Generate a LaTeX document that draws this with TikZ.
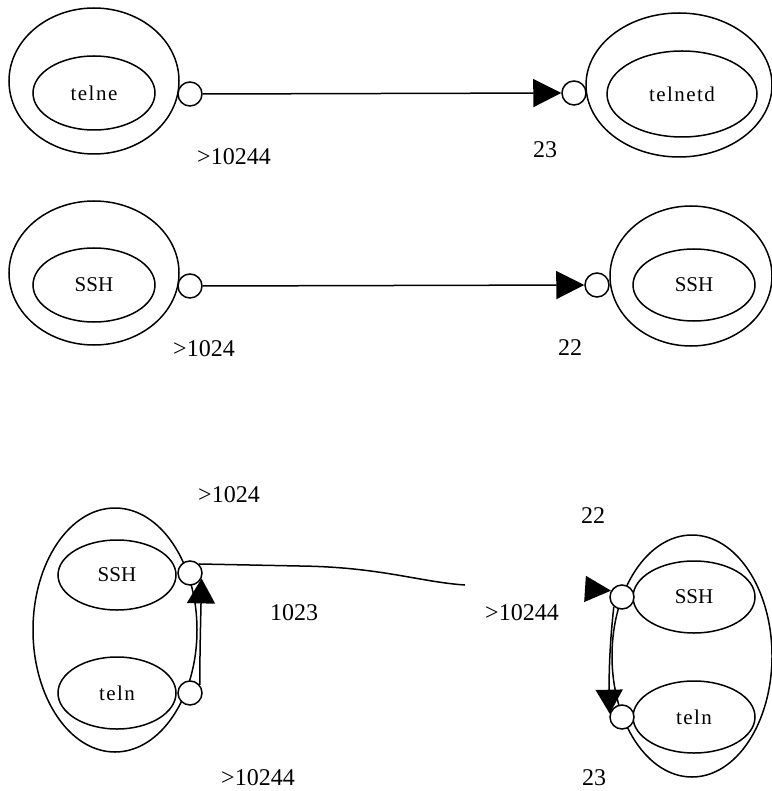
\documentclass[tikz,border=0pt]{standalone}
\usepackage{fontspec}
\setmainfont{Liberation Serif}
\newfontfamily\spacedfont[LetterSpace=7]{Liberation Serif}
\usetikzlibrary{shapes.geometric,arrows.meta}
\begin{document}
\begin{tikzpicture}[x=1pt,y=-1pt,
  outer/.style={draw, ellipse, inner sep=0pt, line width=1.5pt},
  innerell/.style={draw, ellipse, inner sep=0pt, line width=1.5pt, font=\fontsize{21}{25}\selectfont},
  spaced/.style={font=\spacedfont\fontsize{21}{25}\selectfont},
  port/.style={draw, circle, fill=white, minimum size=24pt, inner sep=0pt, line width=1.5pt},
  lbl/.style={font=\fontsize{24}{28}\selectfont, inner sep=0pt},
  conn/.style={line width=1.5pt},
  bigtip/.style={-{Triangle[length=28pt,width=28pt]}}
]
\useasboundingbox (0,0) rectangle (771,791);

% row 1
\node[outer, minimum width=170pt, minimum height=146pt] (o1) at (94,81) {};
\node[innerell, spaced, minimum width=122pt, minimum height=74pt] (i1) at (94,93) {telne};
\node[outer, minimum width=186pt, minimum height=144pt] (o2) at (679,85) {};
\node[innerell, spaced, minimum width=150pt, minimum height=86pt] (i2) at (682,94) {telnetd};
\node[lbl] (l1) at (234,157) {>10244};
\node[lbl] (l2) at (545,150) {23};

% row 2
\node[outer, minimum width=170pt, minimum height=144pt] (o3) at (94,273) {};
\node[innerell, minimum width=122pt, minimum height=74pt] (i3) at (94,285) {SSH};
\node[outer, minimum width=162pt, minimum height=140pt] (o4) at (691,276) {};
\node[innerell, minimum width=122pt, minimum height=72pt] (i4) at (694,285) {SSH};
\node[lbl] (l3) at (204,349) {>1024};
\node[lbl] (l4) at (570,348) {22};

% row 3
\node[outer, minimum width=164pt, minimum height=244pt] (o5) at (115,630) {};
\node[innerell, minimum width=118pt, minimum height=70pt] (i5) at (117,575) {SSH};
\node[innerell, spaced, minimum width=118pt, minimum height=72pt] (i6) at (117,693) {teln};
\node[outer, minimum width=160pt, minimum height=242pt] (o6) at (692,656) {};
\node[innerell, minimum width=122pt, minimum height=72pt] (i7) at (694,597) {SSH};
\node[innerell, spaced, minimum width=122pt, minimum height=72pt] (i8) at (694,717) {teln};
\node[lbl] (l5) at (229,495) {>1024};
\node[lbl] (l6) at (593,516) {22};
\node[lbl] (l7) at (294,613) {1023};
\node[lbl] (l8) at (522,613) {>10244};
\node[lbl] (l9) at (258,778) {>10244};
\node[lbl] (l10) at (594,778) {23};

% ports
\node[port] (p1) at (190,94) {};
\node[port] (p2) at (574,93) {};
\node[port] (p3) at (190,286) {};
\node[port] (p4) at (597,285) {};
\node[port] (p5) at (190,573) {};
\node[port] (p6) at (190,693) {};
\node[port] (p7) at (622,597) {};
\node[port] (p8) at (622,717) {};

% connectors
\draw[conn, bigtip] (p1.east) -- (p2.west);
\draw[conn, bigtip] (p3.east) -- (p4.west);
\draw[conn, -{Triangle[length=25pt,width=28pt]}] (p6.40) .. controls (200,650) .. (p5.-25);
\coordinate (e1) at (465,585);
\draw[conn] (p5.45) -- (300,566) .. controls (380,567) and (420,582) .. (e1);
\coordinate (e2) at (586,589);
\draw[conn, -{Triangle[length=26pt,width=26pt]}] (e2) -- (p7.150);
\draw[conn, -{Triangle[length=24pt,width=27pt]}] (p7.-130) .. controls (609,650) and (609,680) .. (p8.165);
\end{tikzpicture}
\end{document}
